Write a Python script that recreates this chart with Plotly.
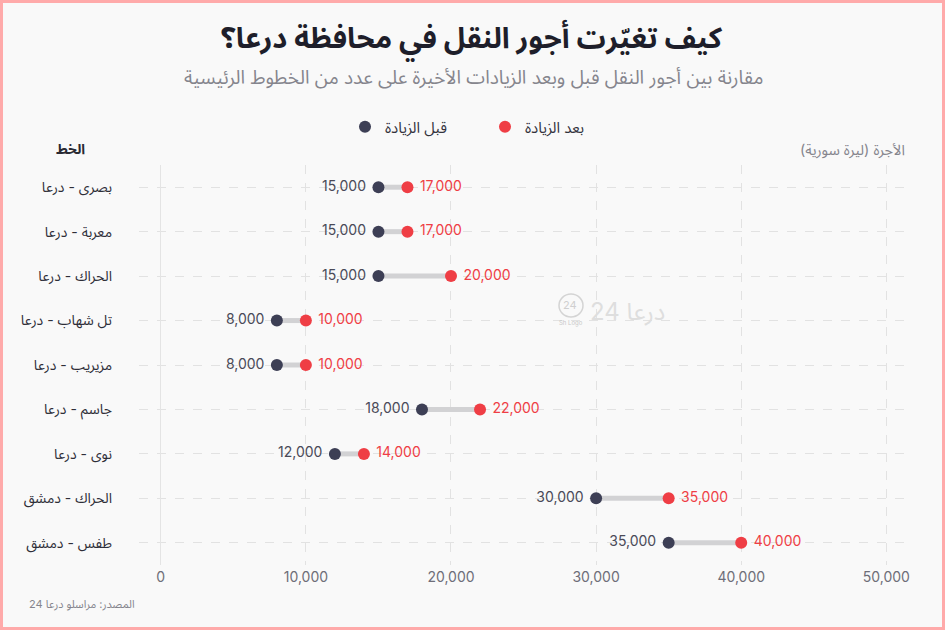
import plotly.graph_objects as go

routes = ["بصرى - درعا", "معربة - درعا", "الحراك - درعا", "تل شهاب - درعا", "مزيريب - درعا",
          "جاسم - درعا", "نوى - درعا", "الحراك - دمشق", "طفس - دمشق"]
before = [15000, 15000, 15000, 8000, 8000, 18000, 12000, 30000, 35000]
after = [17000, 17000, 20000, 10000, 10000, 22000, 14000, 35000, 40000]
x_ticks = [0, 10000, 20000, 30000, 40000, 50000]

title = "كيف تغيّرت أجور النقل في محافظة درعا؟"
subtitle = "مقارنة بين أجور النقل قبل وبعد الزيادات الأخيرة على عدد من الخطوط الرئيسية"
source = "المصدر: مراسلو درعا 24"

FONT = "Inter, 'Noto Sans Arabic', 'DejaVu Sans', sans-serif"
DARK = "#3d3f55"
RED = "#ef3e45"
GRAY = "#6e6e78"
NB = "\u00a0"

fig = go.Figure()

# connector lines
lx, ly = [], []
for r, b, a in zip(routes, before, after):
    lx += [b, a, None]
    ly += [r, r, None]
fig.add_trace(go.Scatter(x=lx, y=ly, mode="lines", line=dict(color="#d2d2d4", width=5),
                         showlegend=False, hoverinfo="skip"))

fig.add_trace(go.Scatter(
    x=before, y=routes, mode="markers+text", name="قبل الزيادة",
    marker=dict(color=DARK, size=12),
    text=[f"{v:,}{NB}" for v in before], textposition="middle left",
    textfont=dict(color="#4a4a58", size=14, family=FONT)))
fig.add_trace(go.Scatter(
    x=after, y=routes, mode="markers+text", name="بعد الزيادة",
    marker=dict(color=RED, size=12),
    text=[f"{NB}{v:,}" for v in after], textposition="middle right",
    textfont=dict(color=RED, size=14, family=FONT)))

H = 400.0
W = 772.0
def py(px):
    return (565 - px) / H
def pxx(px):
    return (px - 139) / W

fig.update_layout(
    width=945, height=630,
    margin=dict(l=139, r=34, t=165, b=65),
    paper_bgcolor="#f9f9f9", plot_bgcolor="#f9f9f9",
    font=dict(family=FONT, color=GRAY),
    showlegend=True,
    legend=dict(orientation="h", x=pxx(345), xanchor="left", y=py(127), yanchor="middle",
                font=dict(size=15, color="#33333d", family=FONT), itemwidth=30,
                entrywidth=95, entrywidthmode="pixels",
                bgcolor="rgba(0,0,0,0)", tracegroupgap=0),
    xaxis=dict(range=[-1500, 51700], tickvals=x_ticks, tickformat=",d",
               showgrid=True, gridcolor="#e2e2e2", griddash="dash", gridwidth=1,
               zeroline=True, zerolinecolor="#e4e4e4", zerolinewidth=1,
               showline=False, tickfont=dict(size=14, color=GRAY, family=FONT),
               ticks="", ticklabelstandoff=2, fixedrange=True),
    yaxis=dict(categoryorder="array", categoryarray=routes,
               showgrid=True, gridcolor="#e2e2e2", griddash="dash", gridwidth=1,
               zeroline=False, showline=False,
               tickfont=dict(size=14, color="#2e2e38", family=FONT),
               ticks="", ticklabelstandoff=26, fixedrange=True),
)
fig.update_yaxes(autorange=False, range=[8.5, -0.5])

fig.add_annotation(text=f"<b>{title}</b>", xref="paper", yref="paper", x=pxx(472), y=py(40),
                   showarrow=False, font=dict(size=29, color="#1e1e2a", family=FONT),
                   xanchor="center", yanchor="middle")
fig.add_annotation(text=subtitle, xref="paper", yref="paper", x=pxx(473), y=py(78),
                   showarrow=False, font=dict(size=19, color="#85858d", family=FONT),
                   xanchor="center", yanchor="middle")
fig.add_annotation(text="<b>الخط</b>", xref="paper", yref="paper", x=pxx(87), y=py(148),
                   showarrow=False, font=dict(size=14, color="#2a2a33", family=FONT),
                   xanchor="right", yanchor="middle")
fig.add_annotation(text="الأجرة (ليرة سورية)", xref="paper", yref="paper", x=pxx(907), y=py(150),
                   showarrow=False, font=dict(size=14.5, color="#85858d", family=FONT),
                   xanchor="right", yanchor="middle")
fig.add_annotation(text=source, xref="paper", yref="paper", x=pxx(27), y=py(604),
                   showarrow=False, font=dict(size=11, color="#85858d", family=FONT),
                   xanchor="left", yanchor="middle")
fig.add_annotation(text="درعا 24", xref="paper", yref="paper", x=pxx(588), y=py(311),
                   showarrow=False, font=dict(size=24, color="#dedede", family=FONT),
                   xanchor="left", yanchor="middle")
fig.add_annotation(text="24", xref="paper", yref="paper", x=pxx(570), y=py(305),
                   showarrow=False, font=dict(size=11, color="#cfcfcf", family=FONT),
                   xanchor="center", yanchor="middle")
fig.add_annotation(text="Sh Logo", xref="paper", yref="paper", x=pxx(571), y=py(323),
                   showarrow=False, font=dict(size=6, color="#c8c8c8", family=FONT),
                   xanchor="center", yanchor="middle")

fig.add_shape(type="circle", xref="paper", yref="paper",
              x0=pxx(559), x1=pxx(583), y0=py(317), y1=py(294),
              line=dict(color="#d4d4d4", width=1.5))

# pink frame around the whole picture
fig.add_shape(type="rect", xref="paper", yref="paper",
              x0=pxx(1.5), x1=pxx(943.5), y0=py(628.5), y1=py(1.5),
              line=dict(color="#ffaaaa", width=3), layer="above")

fig.write_html("out.html")
